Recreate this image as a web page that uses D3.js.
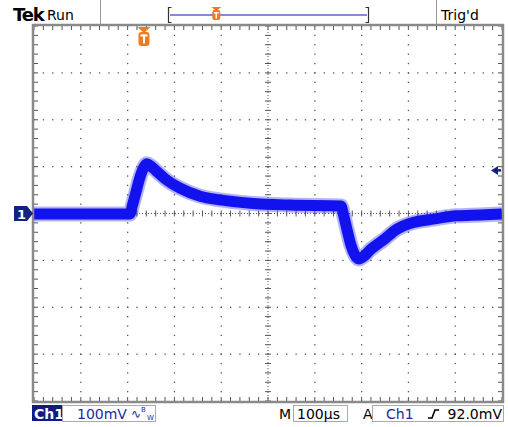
<!DOCTYPE html>
<html><head><meta charset="utf-8">
<script src="https://cdn.jsdelivr.net/npm/d3@7"></script>
<style>
html,body{margin:0;padding:0;background:#fff;}
svg{display:block;}
text{font-family:"DejaVu Sans",sans-serif;}
</style></head><body>
<svg id="c" width="508" height="427"></svg>
<script>
// ---- data ----
const timeUs = [0, 205, 210, 218, 226, 234, 241, 250, 261, 280, 312, 355, 397, 462, 547, 656, 661, 669, 677, 686, 694, 705, 718, 746, 776, 801, 825, 853, 902, 953, 1000];
const voltageMv = [-1, -1, 16, 46, 76, 97, 106, 101, 91, 74, 54, 37, 29, 22, 18, 16, -1, -35, -67, -89, -97, -91, -78, -57, -33, -22, -16, -12, -5, -3, -1];
const timeDomainUs = [0, 1000];
const voltDomainMv = [-400, 400];
const majorTimeStep = 100, minorTimeStep = 20;
const majorVoltStep = 100, minorVoltStep = 20;
const triggerTimeUs = 235;
const triggerLevelMv = 92;
const headerLeft = ["Tek", "Run"];
const headerRight = "Trig'd";
const chLabel = "Ch1";
const voltsPerDiv = "100mV";
const timePerDiv = "100µs";
const trigLevelLabel = "92.0mV";

// ---- layout ----
const L = 34, R = 502, T = 26, B = 401;
const svg = d3.select("#c");
const x = d3.scaleLinear().domain(timeDomainUs).range([L, R]);
const y = d3.scaleLinear().domain(voltDomainMv).range([B, T]);
const barScale = d3.scaleLinear().domain(timeDomainUs).range([170, 367]);

const majT = d3.range(timeDomainUs[0], timeDomainUs[1] + 1, majorTimeStep);
const minT = d3.range(timeDomainUs[0], timeDomainUs[1] + 1, minorTimeStep);
const majV = d3.range(voltDomainMv[0], voltDomainMv[1] + 1, majorVoltStep);
const minV = d3.range(voltDomainMv[0], voltDomainMv[1] + 1, minorVoltStep);
const cT = (timeDomainUs[0] + timeDomainUs[1]) / 2, cV = 0;

const grid = svg.append("g");
majT.filter(t => t !== timeDomainUs[0] && t !== timeDomainUs[1] && t !== cT).forEach(t => {
  grid.selectAll(null).data(minV).enter().append("rect")
    .attr("x", x(t) - 0.6).attr("y", d => y(d) - 0.6).attr("width", 1.3).attr("height", 1.3).attr("fill", "#555");
});
majV.filter(v => v !== voltDomainMv[0] && v !== voltDomainMv[1] && v !== cV).forEach(v => {
  grid.selectAll(null).data(minT).enter().append("rect")
    .attr("x", d => x(d) - 0.6).attr("y", y(v) - 0.6).attr("width", 1.3).attr("height", 1.3).attr("fill", "#555");
});
grid.append("line").attr("x1", x(cT)).attr("x2", x(cT)).attr("y1", T).attr("y2", B)
  .attr("stroke", "#555").attr("stroke-width", 1).attr("stroke-dasharray", "1,2");
grid.append("line").attr("x1", L).attr("x2", R).attr("y1", y(cV)).attr("y2", y(cV))
  .attr("stroke", "#555").attr("stroke-width", 1).attr("stroke-dasharray", "1,2");
grid.selectAll(null).data(minV).enter().append("line")
  .attr("x1", x(cT) - 3).attr("x2", x(cT) + 3).attr("y1", d => y(d)).attr("y2", d => y(d))
  .attr("stroke", "#555").attr("stroke-width", 1);
grid.selectAll(null).data(minT).enter().append("line")
  .attr("y1", y(cV) - 3).attr("y2", y(cV) + 3).attr("x1", d => x(d)).attr("x2", d => x(d))
  .attr("stroke", "#555").attr("stroke-width", 1);
grid.selectAll(null).data(minT).enter().append("line")
  .attr("x1", d => x(d)).attr("x2", d => x(d)).attr("y1", T).attr("y2", T + 4).attr("stroke", "#555");
grid.selectAll(null).data(minT).enter().append("line")
  .attr("x1", d => x(d)).attr("x2", d => x(d)).attr("y1", B - 4).attr("y2", B).attr("stroke", "#555");
grid.selectAll(null).data(minV).enter().append("line")
  .attr("y1", d => y(d)).attr("y2", d => y(d)).attr("x1", L).attr("x2", L + 4).attr("stroke", "#555");
grid.selectAll(null).data(minV).enter().append("line")
  .attr("y1", d => y(d)).attr("y2", d => y(d)).attr("x1", R - 4).attr("x2", R).attr("stroke", "#555");

// trace
svg.append("clipPath").attr("id", "pc").append("rect").attr("x", L).attr("y", T).attr("width", R - L).attr("height", B - T);
const pts = timeUs.map((t, i) => ({ t, v: voltageMv[i] }));
const line = d3.line().x(d => x(d.t)).y(d => y(d.v)).curve(d3.curveMonotoneX);
const tr = svg.append("g").attr("clip-path", "url(#pc)");
tr.append("path").attr("d", line(pts)).attr("fill", "none").attr("stroke", "#2424f0")
  .attr("stroke-width", 15).attr("stroke-linejoin", "round").attr("opacity", 0.35);
tr.append("path").attr("d", line(pts)).attr("fill", "none").attr("stroke", "#1212ee")
  .attr("stroke-width", 11).attr("stroke-linejoin", "round");

// frame
svg.append("rect").attr("x", L - 1).attr("y", T - 1).attr("width", R - L + 2).attr("height", B - T + 2)
  .attr("fill", "none").attr("stroke", "#8a8a8a").attr("stroke-width", 2.5);

// channel marker "1"
const gy = y(0);
svg.append("path").attr("d", `M14,${gy - 7.5}L27,${gy - 7.5}L33,${gy}L27,${gy + 7.5}L14,${gy + 7.5}Z`).attr("fill", "#14237f");
svg.append("text").attr("x", 17).attr("y", gy + 5).attr("fill", "#fff").attr("font-size", 13).attr("font-weight", "bold").text("1");

// trigger level arrow (right)
const ty = y(triggerLevelMv);
svg.append("path").attr("d", `M491,${ty}L498,${ty - 4.5}L498,${ty + 4.5}Z`).attr("fill", "#14237f");
svg.append("line").attr("x1", 496).attr("x2", 501).attr("y1", ty).attr("y2", ty).attr("stroke", "#14237f").attr("stroke-width", 2.5);

// trigger position marker (in plot)
function tMarker(cx, top, w, h) {
  const g = svg.append("g");
  g.append("path").attr("d", `M${cx - w / 2 - 1},${top}L${cx + w / 2 + 1},${top}L${cx},${top + 6}Z`).attr("fill", "#f07a1e");
  g.append("rect").attr("x", cx - w / 2).attr("y", top + 5).attr("width", w).attr("height", h).attr("rx", 3).attr("fill", "#f07a1e");
  g.append("rect").attr("x", cx - w / 2 + 2).attr("y", top + 7.5).attr("width", w - 4).attr("height", 2).attr("fill", "#fff");
  g.append("rect").attr("x", cx - 1).attr("y", top + 7.5).attr("width", 2).attr("height", h - 5).attr("fill", "#fff");
}
tMarker(x(triggerTimeUs), 27, 11, 14);

// header
svg.append("text").attr("x", 13).attr("y", 21).attr("font-family", "'Liberation Serif',serif").attr("font-weight", "bold")
  .attr("font-size", 18).attr("letter-spacing", -1.2).attr("fill", "#000").text(headerLeft[0]);
svg.append("text").attr("x", 47).attr("y", 20).attr("font-size", 14).attr("fill", "#000").text(headerLeft[1]);
svg.append("line").attr("x1", 100.5).attr("x2", 100.5).attr("y1", 0).attr("y2", 24).attr("stroke", "#999");
svg.append("line").attr("x1", 436.5).attr("x2", 436.5).attr("y1", 0).attr("y2", 24).attr("stroke", "#999");
svg.append("text").attr("x", 441).attr("y", 20).attr("font-size", 14).attr("fill", "#000").text(headerRight);
svg.append("line").attr("x1", barScale(timeDomainUs[0])).attr("x2", barScale(timeDomainUs[1])).attr("y1", 15).attr("y2", 15)
  .attr("stroke", "#8888d6").attr("stroke-width", 2);
svg.append("path").attr("d", "M171.5,7.5L168.5,7.5L168.5,22.5L171.5,22.5").attr("fill", "none").attr("stroke", "#333").attr("stroke-width", 1.2);
svg.append("path").attr("d", "M365.5,7.5L368.5,7.5L368.5,22.5L365.5,22.5").attr("fill", "none").attr("stroke", "#333").attr("stroke-width", 1.2);
(function () {
  const cx = barScale(triggerTimeUs);
  const g = svg.append("g");
  g.append("path").attr("d", `M${cx - 5},7L${cx + 5},7L${cx},11Z`).attr("fill", "#f07a1e");
  g.append("rect").attr("x", cx - 4).attr("y", 10).attr("width", 8).attr("height", 10).attr("rx", 2).attr("fill", "#f07a1e");
  g.append("rect").attr("x", cx - 2.5).attr("y", 12).attr("width", 5).attr("height", 1.5).attr("fill", "#fff");
  g.append("rect").attr("x", cx - 0.75).attr("y", 12).attr("width", 1.5).attr("height", 6.5).attr("fill", "#fff");
})();

// status line
const sy = 419;
svg.append("rect").attr("x", 32).attr("y", 405).attr("width", 30).attr("height", 16).attr("fill", "#0e1b82");
svg.append("text").attr("x", 34).attr("y", sy).attr("font-size", 14).attr("font-weight", "bold").attr("fill", "#fff").text(chLabel);
svg.append("rect").attr("x", 62.5).attr("y", 405.5).attr("width", 93).attr("height", 16).attr("fill", "none").attr("stroke", "#aaa");
svg.append("text").attr("x", 77).attr("y", sy).attr("font-size", 14).attr("fill", "#1a2a9e").text(voltsPerDiv);
svg.append("text").attr("x", 131).attr("y", sy - 1).attr("font-size", 12).attr("fill", "#1a2a9e").text("∿");
svg.append("text").attr("x", 141).attr("y", 412).attr("font-size", 7).attr("fill", "#1a2a9e").text("B");
svg.append("text").attr("x", 147).attr("y", 420).attr("font-size", 7).attr("fill", "#1a2a9e").text("W");

svg.append("text").attr("x", 279).attr("y", sy).attr("font-size", 14).attr("fill", "#000").text("M");
svg.append("rect").attr("x", 293.5).attr("y", 405.5).attr("width", 54).attr("height", 16).attr("fill", "none").attr("stroke", "#aaa");
svg.append("text").attr("x", 297).attr("y", sy).attr("font-size", 14).attr("fill", "#000").text(timePerDiv);
svg.append("text").attr("x", 363).attr("y", sy).attr("font-size", 14).attr("fill", "#000").text("A");
svg.append("rect").attr("x", 372.5).attr("y", 405.5).attr("width", 131).attr("height", 16).attr("fill", "none").attr("stroke", "#aaa");
svg.append("text").attr("x", 386).attr("y", sy).attr("font-size", 14).attr("fill", "#1a2a9e").text(chLabel);
svg.append("path").attr("d", "M428,418L432,418L435,410L439,410").attr("fill", "none").attr("stroke", "#000").attr("stroke-width", 1.6);
svg.append("text").attr("x", 502).attr("y", sy).attr("text-anchor", "end").attr("font-size", 14).attr("fill", "#000").text(trigLevelLabel);
</script></body></html>
